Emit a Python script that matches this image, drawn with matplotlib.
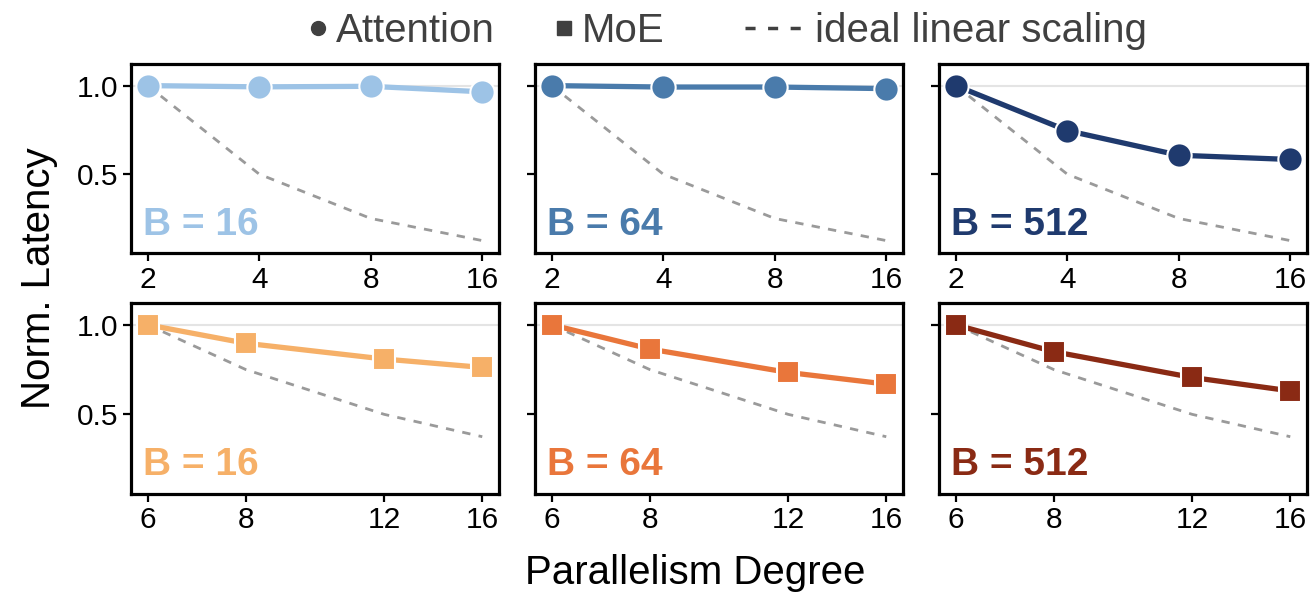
import matplotlib
matplotlib.use("Agg")
import matplotlib.pyplot as plt
from matplotlib.lines import Line2D
from matplotlib.ticker import FixedLocator, NullLocator, FixedFormatter

plt.rcParams['font.family'] = ['Liberation Sans', 'DejaVu Sans']

# ---- data ----
batch_labels = ["B = 16", "B = 64", "B = 512"]

attn_degrees = [2, 4, 8, 16]
attn_b16 = [1.0, 0.993, 0.996, 0.965]
attn_b64 = [1.0, 0.992, 0.992, 0.983]
attn_b512 = [1.0, 0.746, 0.607, 0.583]
attn_ideal = [1.0, 0.5, 0.25, 0.125]

moe_degrees = [6, 8, 12, 16]
moe_b16 = [1.0, 0.897, 0.809, 0.762]
moe_b64 = [1.0, 0.865, 0.734, 0.669]
moe_b512 = [1.0, 0.850, 0.706, 0.631]
moe_ideal = [1.0, 0.75, 0.5, 0.375]

legend_labels = ["Attention", "MoE", "ideal linear scaling"]

attn_colors = ["#9dc3e6", "#4a7bab", "#1f3a6e"]
moe_colors = ["#f6b068", "#e9763b", "#8a2a14"]

W, H = 1311, 593
fig = plt.figure(figsize=(W / 100, H / 100), dpi=100)

col_left = [131, 535, 939]
col_w = 368
rows = [(64, 253), (303, 494)]

row_data = [
    (attn_degrees, [attn_b16, attn_b64, attn_b512], attn_ideal, attn_colors, 'o', 17.5),
    (moe_degrees, [moe_b16, moe_b64, moe_b512], moe_ideal, moe_colors, 's', 16.5),
]

for r, (top, bot) in enumerate(rows):
    degs, series, ideal, colors, mk, ms = row_data[r]
    for c in range(3):
        ax = fig.add_axes([col_left[c] / W, 1 - bot / H, col_w / W, (bot - top) / H])
        ax.axhline(1.0, color="#e4e4e4", lw=1.5, zorder=0)
        ax.plot(degs, ideal, color="#9a9a9a", lw=2, dashes=(3, 3), zorder=1)
        ax.plot(degs, series[c], color=colors[c], lw=3.8, marker=mk, ms=ms,
                markeredgecolor="white", markeredgewidth=1.5, zorder=3, clip_on=False)
        ax.set_xscale('log')
        ax.xaxis.set_major_locator(FixedLocator(degs))
        ax.xaxis.set_major_formatter(FixedFormatter([str(d) for d in degs]))
        ax.xaxis.set_minor_locator(NullLocator())
        ax.set_ylim(0.055, 1.122)
        ax.set_yticks([0.5, 1.0])
        if c == 0:
            ax.set_yticklabels(["0.5", "1.0"])
        else:
            ax.set_yticklabels([])
        ax.tick_params(axis='both', direction='out', length=6, width=1.6,
                       labelsize=21.5, pad=3, colors='black')
        for s in ax.spines.values():
            s.set_linewidth(2.3)
            s.set_color('black')
            s.set_zorder(4)
        ax.text(0.033, 0.095 if r == 0 else 0.1, batch_labels[c], transform=ax.transAxes,
                color=colors[c], fontsize=28, fontweight='bold', ha='left', va='baseline')

fig.text(39 / W, 1 - 278 / H, "Norm. Latency", rotation=90, fontsize=29,
         ha='center', va='center')
fig.text(695 / W, 1 - 584 / H, "Parallelism Degree", fontsize=29, ha='center', va='baseline')

h_marker = [
    Line2D([], [], color="#404040", marker='o', ls='none', ms=10),
    Line2D([], [], color="#404040", marker='s', ls='none', ms=10),
]
leg1 = fig.legend(h_marker, legend_labels[:2], loc='center left',
                  bbox_to_anchor=(306 / W, 1 - 31 / H), ncol=2, frameon=False,
                  fontsize=29, handlelength=0.6, handletextpad=0.15,
                  columnspacing=1.4, borderpad=0, borderaxespad=0)
h_line = [Line2D([], [], color="#404040", ls=(0, (2.9, 3.6)), lw=2.5)]
leg2 = fig.legend(h_line, legend_labels[2:], loc='center left',
                  bbox_to_anchor=(745 / W, 1 - 31 / H), frameon=False,
                  fontsize=29, handlelength=1.4, handletextpad=0.35,
                  borderpad=0, borderaxespad=0)
for lg in (leg1, leg2):
    for t in lg.get_texts():
        t.set_color("#404040")

fig.savefig("out.png", dpi=100)
